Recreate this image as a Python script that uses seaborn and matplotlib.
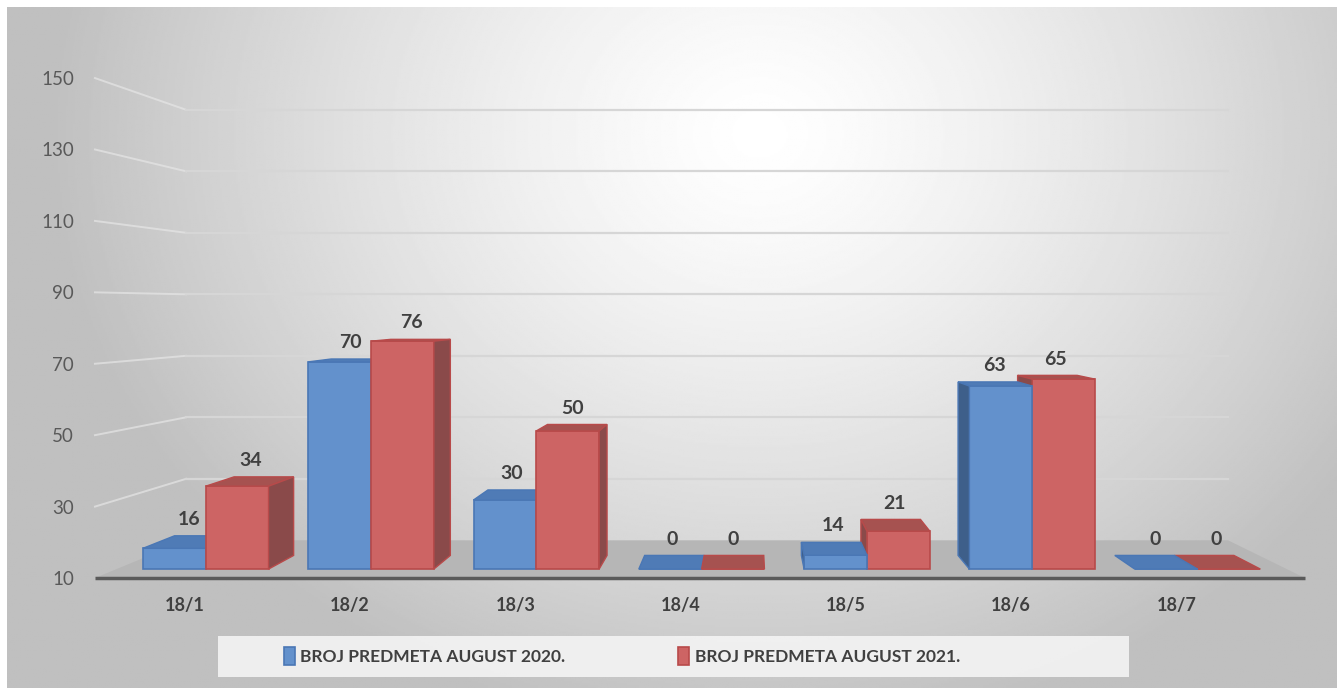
#!/usr/bin/env python3
"""Broj predmeta po referatu — august 2020. vs 2021. (3D-look bar chart)."""

import matplotlib

matplotlib.use("Agg")
import matplotlib.pyplot as plt
import numpy as np
import pandas as pd
import seaborn as sns
from matplotlib import font_manager
from matplotlib.patches import Patch, Polygon, Rectangle

CATEGORIES = ["18/1", "18/2", "18/3", "18/4", "18/5", "18/6", "18/7"]
SERIES = ["BROJ PREDMETA AUGUST 2020.", "BROJ PREDMETA AUGUST 2021."]
VALUES_2020 = [16, 70, 30, 0, 14, 63, 0]
VALUES_2021 = [34, 76, 50, 0, 21, 65, 0]
Y_TICKS = [10, 30, 50, 70, 90, 110, 130, 150]

FRONT = ["#6391cc", "#cd6464"]
EDGE = ["#4a77b5", "#b84a4a"]
SIDE = ["#3e5f8a", "#8a4a4a"]
TOP = ["#4f7bb6", "#a65250"]

Y_MIN, Y_MAX = 10, 150
VP = (3.3, 86.0)        # vanishing point in data units
FRONT_DEPTH = 0.033     # bars stand a bit back on the floor
BAR_DEPTH = 0.052
WALL_DEPTH = 0.139


def back(x, y, s):
    return x + (VP[0] - x) * s, y + (VP[1] - y) * s


def pick_font():
    names = {f.name for f in font_manager.fontManager.ttflist}
    for n in ("Liberation Sans Narrow", "Lato", "DejaVu Sans"):
        if n in names:
            return n
    return "DejaVu Sans"


def main():
    plt.rcParams["font.family"] = [pick_font(), "DejaVu Sans"]

    df = pd.DataFrame({
        "category": CATEGORIES * 2,
        "series": [SERIES[0]] * len(CATEGORIES) + [SERIES[1]] * len(CATEGORIES),
        "value": VALUES_2020 + VALUES_2021,
    })
    values = [VALUES_2020, VALUES_2021]

    fig = plt.figure(figsize=(13.43, 6.95), dpi=100, facecolor="white")

    # soft radial background like the Excel template
    bg = fig.add_axes([0.005, 0.01, 0.99, 0.98], zorder=-5)
    yy, xx = np.mgrid[0:695:350j, 0:1343:670j]
    r = np.clip(np.hypot((xx - 760) / 720, (yy - 130) / 620), 0, 1)
    bg.imshow(1 - 0.25 * r ** 1.3, cmap="gray", vmin=0, vmax=1,
              aspect="auto", extent=(0, 1, 0, 1))
    bg.set_axis_off()

    ax = fig.add_axes([0.0707, 0.1683, 0.9010, 0.7194])
    ax.patch.set_alpha(0)
    sns.barplot(data=df, x="category", y="value", hue="series",
                palette=dict(zip(SERIES, FRONT)), width=0.76, saturation=1,
                linewidth=1.2, legend=False, ax=ax)
    ax.set_xlim(-0.67, 6.65)
    ax.set_ylim(Y_MIN, Y_MAX)
    x0, x1 = ax.get_xlim()

    # floor and back-wall gridlines
    bl = back(x0, Y_MIN, WALL_DEPTH)
    br = back(x1, Y_MIN, WALL_DEPTH)
    ax.add_patch(Polygon([(x0, Y_MIN), (x1, Y_MIN), br, bl],
                         facecolor="#b6b6b6", edgecolor="none", zorder=1.5))
    ax.plot([x0, x1], [Y_MIN, Y_MIN], color="#5a5a5a", lw=2.5, zorder=2,
            clip_on=False, solid_capstyle="butt")
    for v in Y_TICKS[1:]:
        pl = back(x0, v, WALL_DEPTH)
        pr = back(x1, v, WALL_DEPTH)
        ax.plot([x0, pl[0]], [v, pl[1]], color="#e6e6e6", lw=1.4, zorder=1,
                clip_on=False, alpha=0.7)
        ax.plot([pl[0], pr[0]], [pl[1], pr[1]], color="#d6d6d6", lw=1.6,
                zorder=1, clip_on=False)

    # bars sit slightly behind the floor edge: project front faces, add top/side faces
    base = back(0, Y_MIN, FRONT_DEPTH)[1]
    for si, cont in enumerate(ax.containers):
        for bar, val in zip(cont, values[si]):
            xl = bar.get_x()
            xr = xl + bar.get_width()
            cx = xl + bar.get_width() / 2
            top = back(cx, max(val, Y_MIN), FRONT_DEPTH)[1]
            bar.set_y(base)
            bar.set_height(top - base)
            z = 10 - abs(cx - VP[0])
            bar.set_zorder(z)
            bar.set_edgecolor(EDGE[si])
            ax.add_patch(Polygon(
                [(xl, top), (xr, top), back(xr, top, BAR_DEPTH), back(xl, top, BAR_DEPTH)],
                facecolor=TOP[si], edgecolor=EDGE[si], lw=1, zorder=z))
            if val > Y_MIN:
                xe = xr if xr < VP[0] else xl
                ax.add_patch(Polygon(
                    [(xe, base), (xe, top), back(xe, top, BAR_DEPTH), back(xe, base, BAR_DEPTH)],
                    facecolor=SIDE[si], edgecolor=EDGE[si], lw=1, zorder=z))
            lx, _ = back(cx, top, BAR_DEPTH / 2)
            ax.text(lx, top + (VP[1] - top) * BAR_DEPTH + 2.2, str(val),
                    ha="center", va="bottom", fontsize=14, fontweight="bold",
                    color="#404040", zorder=20)

    for s in ax.spines.values():
        s.set_visible(False)
    ax.set_xlabel("")
    ax.set_ylabel("")
    ax.set_xticks(np.arange(len(CATEGORIES)) - 0.127)
    ax.set_xticklabels(CATEGORIES, fontsize=13, fontweight="bold", color="#404040")
    ax.set_yticks(Y_TICKS)
    ax.set_yticklabels([str(t) for t in Y_TICKS], fontsize=13.5, color="#595959")
    ax.tick_params(axis="x", length=0, pad=14)
    ax.tick_params(axis="y", length=0, pad=15)

    # legend band
    fig.add_artist(Rectangle((0.162, 0.026), 0.679, 0.059, transform=fig.transFigure,
                             facecolor="#f4f4f4", edgecolor="none", alpha=0.9, zorder=3))
    handles = [Patch(facecolor=FRONT[i], edgecolor=EDGE[i], lw=1.2) for i in range(2)]
    leg = fig.legend(handles, SERIES, loc="center", bbox_to_anchor=(0.463, 0.056),
                     ncol=2, frameon=False, fontsize=12.5, handlelength=0.65,
                     handleheight=1.15, handletextpad=0.3, columnspacing=6.5)
    leg.set_zorder(4)
    for t in leg.get_texts():
        t.set_fontweight("bold")
        t.set_color("#404040")

    fig.savefig("out.png", dpi=100)
    plt.close(fig)


if __name__ == "__main__":
    main()
